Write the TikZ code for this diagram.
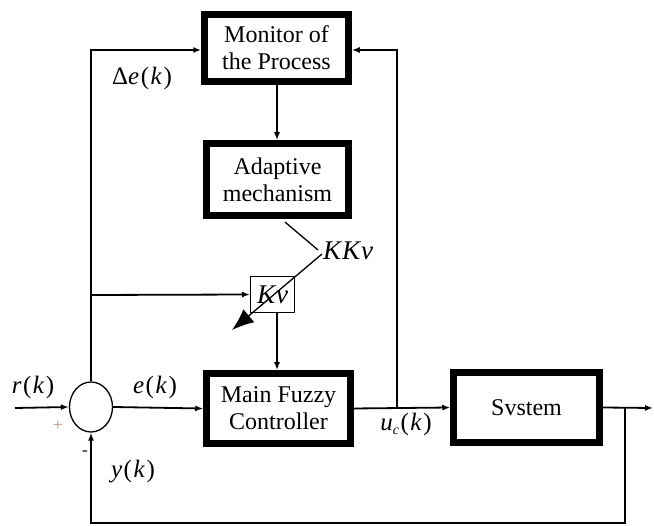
\documentclass[tikz,border=0pt]{standalone}
\usepackage{fontspec}
\setmainfont{Liberation Serif}
\usetikzlibrary{arrows.meta,shapes.geometric,calc}
\newcommand{\mi}[1]{\textit{#1}}
\newcommand{\gp}{\kern1.5pt}
\begin{document}
\begin{tikzpicture}[x=1pt,y=-1pt,
  blk/.style={draw,line width=6.5pt,minimum width=#1,align=center,font=\fontsize{24}{27}\selectfont,inner sep=0pt},
  lbl/.style={font=\fontsize{25}{28}\selectfont,inner sep=0pt},
  conn/.style={line width=1.8pt},
  arr/.style={conn,-{Latex[length=8pt,width=6pt]}},
  thin/.style={line width=1.3pt}
]
\useasboundingbox (0,0) rectangle (654,526);
% blocks
\node[blk=144pt,minimum height=67pt] (monitor) at (276.5,48) {Monitor of\\the Process};
\node[blk=142pt,minimum height=72pt] (adaptive) at (277.5,179.5) {Adaptive\\mechanism};
\node[blk=144pt,minimum height=70pt] (fuzzy) at (278.5,408.5) {Main Fuzzy\\Controller};
\node[blk=146pt,minimum height=70pt] (system) at (526.5,407.5) {Svstem};
\node[draw,line width=1pt,minimum width=44pt,minimum height=36pt,inner sep=0pt,font=\fontsize{27}{30}\selectfont\itshape] (kv) at (272.5,294.5) {K\kern1pt v};
\node[draw,ellipse,line width=1.3pt,minimum width=43pt,minimum height=50pt,inner sep=0pt] (sum) at (91,407) {};
% coordinates
\coordinate (rin) at (15,408);
\coordinate (yout) at (653,408);
\coordinate (ytap) at (625,408);
\coordinate (ybot) at (625,523);
\coordinate (sbot) at (91,523);
\coordinate (ml) at (91,50);
\coordinate (br) at (91,295);
\coordinate (uctap) at (397,408);
\coordinate (mr) at (397,50);
\coordinate (ad) at (285,222);
\coordinate (kk) at (318,250);
\coordinate (dst) at (322,254);
\coordinate (dend) at (232,330);
\coordinate (kvd) at (277,313);
% connectors
\draw[arr] (rin) -- (sum.west);
\draw[arr] (sum.east) -- (fuzzy.west);
\draw[arr] (fuzzy.east) -- (system.west);
\draw[arr] (system.east) -- (yout);
\draw[arr] (ytap) -- (ybot) -- (sbot) -- (sum.south);
\draw[arr] (sum.north) -- (ml) -- (ml -| monitor.west);
\draw[arr] (br) -- (kv.west);
\draw[arr] (uctap) -- (mr) -- (mr -| monitor.east);
\draw[arr] (monitor.south -| kvd) -- (adaptive.north -| kvd);
\draw[arr] (kvd) -- (kvd |- fuzzy.north);
\draw[thin] (ad) -- (kk);
\draw[thin,-{Latex[length=22pt,width=17pt]}] (dst) -- (dend);
% labels
\node[lbl] (de) at (142,78) {Δ\mi{e}\gp(\gp\mi{k}\gp)};
\node[lbl] (rk) at (33,387) {\mi{r}\gp(\gp\mi{k}\gp)};
\node[lbl] (ek) at (155,387) {\mi{e}\gp(\gp\mi{k}\gp)};
\node[lbl,text={rgb,255:red,190;green,140;blue,110},font=\fontsize{17}{18}\selectfont] (plus) at (58,426) {+};
\node[lbl,font=\fontsize{17}{18}\selectfont] (minus) at (85,453) {-};
\node[lbl] (yk) at (133,472) {\mi{y}\gp(\gp\mi{k}\gp)};
\node[lbl] (uc) at (406,424) {\mi{u}\raisebox{-0.35ex}{\fontsize{14}{16}\selectfont\mi{c}}\gp(\gp\mi{k}\gp)};
\node[lbl,font=\fontsize{27}{30}\selectfont\itshape] (kkv) at (348,251) {K\kern1pt K\kern1pt v};
\end{tikzpicture}
\end{document}
